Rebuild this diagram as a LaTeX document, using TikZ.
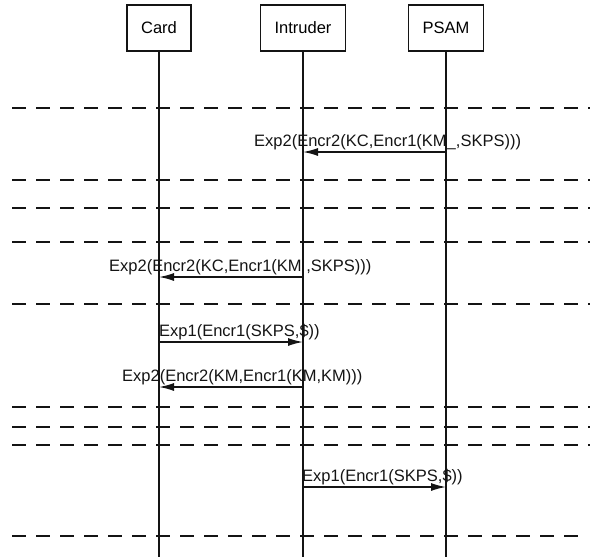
\documentclass[tikz,border=0pt]{standalone}
\usepackage{fontspec}
\setmainfont{Liberation Sans}
\definecolor{InkBlack}{RGB}{20,20,20}
\usepackage{tikz}
\usetikzlibrary{arrows.meta, positioning}

\begin{document}
\begin{tikzpicture}[x=1pt, y=-1pt,
    actor/.style={draw=InkBlack, line width=1.4pt, minimum height=46pt,
                  inner xsep=14pt, font=\fontsize{16.5}{19}\selectfont},
    lifeline/.style={InkBlack, line width=1.8pt},
    sepline/.style={InkBlack, line width=1.5pt, dash pattern=on 14pt off 10pt},
    msg/.style={-{Latex[length=15pt, width=8pt]}, InkBlack, line width=1.4pt},
    lbl/.style={anchor=base west, inner sep=0pt, text=InkBlack,
                font=\fontsize{16.5}{19}\selectfont}]
      \useasboundingbox (0,0) rectangle (600,557);

      \node[actor] (card) at (159,28) {Card};
      \node[actor] (intruder) at (303,28) {Intruder};
      \node[actor] (psam) at (446,28) {PSAM};

      \foreach \p in {card, intruder, psam}
        \draw[lifeline] (\p.south) -- (\p |- 0,557);

      \foreach \y/\e in {108/590, 180/590, 208/590, 242/590, 304/590,
                         407/590, 427/590, 445/590, 536/583}
        \draw[sepline] (12,\y) -- (\e,\y);

      \draw[msg] (psam |- 0,152) -- (intruder |- 0,152);
      \node[lbl] (m1) at (254,146) {Exp2(Encr2(KC,Encr1(KM\_,SKPS)))};

      \draw[msg] (intruder |- 0,277) -- (card |- 0,277);
      \node[lbl] (m2) at (109,271) {Exp2(Encr2(KC,Encr1(KM\ ,SKPS)))};

      \draw[msg] (card |- 0,342) -- (intruder |- 0,342);
      \node[lbl] (m3) at (159,336) {Exp1(Encr1(SKPS,\$))};

      \draw[msg] (intruder |- 0,387) -- (card |- 0,387);
      \node[lbl] (m4) at (122,381) {Exp2(Encr2(KM,Encr1(KM,KM)))};

      \draw[msg] (intruder |- 0,487) -- (psam |- 0,487);
      \node[lbl] (m5) at (302,481) {Exp1(Encr1(SKPS,\$))};
    \end{tikzpicture}
\end{document}
